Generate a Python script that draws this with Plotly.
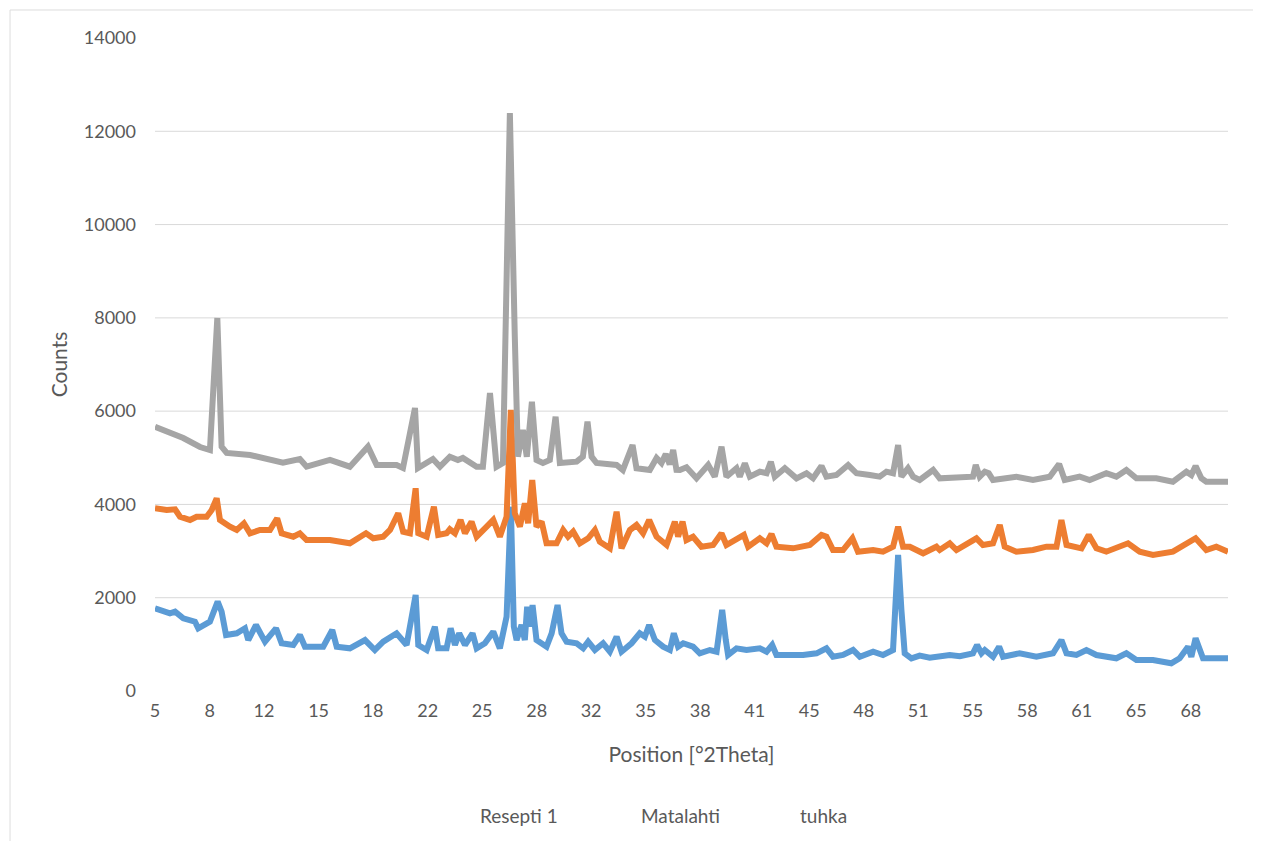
import plotly.graph_objects as go

# ---------------- data ----------------
tick_pos = [5.0, 8.32, 11.63, 14.95, 18.26, 21.58, 24.89, 28.21, 31.52, 34.84,
            38.15, 41.47, 44.78, 48.10, 51.41, 54.73, 58.04, 61.36, 64.67, 67.99]
tick_labels = ["5", "8", "12", "15", "18", "22", "25", "28", "32", "35",
               "38", "41", "45", "48", "51", "55", "58", "61", "65", "68"]
y_ticks = [0, 2000, 4000, 6000, 8000, 10000, 12000, 14000]
y_tick_labels = ["0", "2000", "4000", "6000", "8000", "10000", "12000", "14000"]
grid_levels = [2000, 4000, 6000, 8000, 10000, 12000]

series_names = ["Resepti 1", "Matalahti", "tuhka"]

resepti_2theta = [5.00, 5.91, 6.22, 6.72, 7.43, 7.63, 8.34, 8.81, 9.05, 9.32, 9.97, 10.47, 10.67,
                  11.14, 11.69, 12.36, 12.70, 13.41, 13.81, 14.12, 15.23, 15.78, 16.05, 16.85,
                  17.77, 18.37, 18.88, 19.69, 20.30, 20.85, 21.01, 21.52, 22.02, 22.22, 22.73,
                  22.98, 23.24, 23.50, 23.85, 24.31, 24.56, 25.06, 25.57, 25.97, 26.38, 26.64,
                  26.82, 26.99, 27.29, 27.49, 27.63, 27.80, 27.96, 28.20, 28.81, 29.12, 29.48,
                  29.72, 30.03, 30.64, 31.04, 31.34, 31.75, 32.25, 32.66, 33.07, 33.37, 33.98,
                  34.48, 34.79, 35.05, 35.40, 35.90, 36.31, 36.55, 36.81, 37.12, 37.72, 38.13,
                  38.74, 39.15, 39.49, 39.71, 39.85, 40.36, 40.97, 41.78, 42.19, 42.53, 42.79,
                  43.60, 44.41, 45.23, 45.83, 46.23, 46.84, 47.45, 47.86, 48.67, 49.27, 49.88,
                  50.19, 50.39, 50.59, 51.00, 51.50, 52.11, 52.72, 53.33, 53.94, 54.74, 54.99,
                  55.26, 55.46, 55.96, 56.33, 56.57, 57.58, 58.60, 59.61, 60.12, 60.43, 61.03,
                  61.64, 62.25, 63.46, 64.07, 64.68, 65.69, 66.80, 67.31, 67.82, 68.02, 68.28,
                  68.48, 68.73, 69.54, 70.25]
resepti_counts = [1773, 1666, 1700, 1559, 1486, 1344, 1486, 1915, 1700, 1201, 1237, 1344, 1093,
                  1415, 1057, 1344, 1023, 986, 1201, 950, 950, 1308, 950, 915,
                  1093, 879, 1057, 1237, 986, 2058, 986, 879, 1379, 915, 915,
                  1344, 986, 1237, 986, 1237, 915, 1023, 1271, 915, 1593, 3951,
                  1379, 1093, 1415, 1093, 1807, 1379, 1844, 1093, 950, 1237, 1844,
                  1237, 1057, 1023, 915, 1057, 879, 1023, 843, 1164, 843, 1023,
                  1237, 1164, 1415, 1093, 950, 879, 1237, 950, 1023, 950, 808,
                  879, 843, 1737, 1093, 772, 915, 879, 915, 843, 986, 772,
                  772, 772, 808, 915, 735, 772, 879, 735, 843, 772, 879,
                  2916, 1737, 808, 701, 760, 715, 735, 770, 745, 808, 986,
                  808, 879, 735, 950, 735, 808, 735, 808, 1093, 808, 772,
                  879, 772, 701, 808, 665, 665, 594, 701, 950, 735, 1130,
                  950, 701, 701, 701]

matalahti_2theta = [5.00, 5.71, 6.22, 6.52, 7.13, 7.53, 8.14, 8.45, 8.75, 8.95, 9.56, 9.97, 10.41,
                    10.78, 11.38, 11.99, 12.43, 12.70, 13.41, 13.81, 14.22, 15.64, 16.85, 17.83,
                    18.27, 18.88, 19.29, 19.79, 20.09, 20.50, 20.85, 21.01, 21.52, 21.96, 22.22,
                    22.73, 22.93, 23.24, 23.58, 23.85, 24.25, 24.56, 25.17, 25.57, 25.97, 26.38,
                    26.64, 26.88, 27.19, 27.49, 27.69, 27.94, 28.20, 28.51, 28.81, 29.42, 29.82,
                    30.12, 30.43, 30.84, 31.34, 31.75, 32.05, 32.66, 33.07, 33.37, 33.88, 34.28,
                    34.68, 35.05, 35.50, 36.11, 36.61, 36.81, 37.08, 37.32, 37.72, 38.23, 38.94,
                    39.45, 39.75, 40.36, 40.81, 41.07, 41.78, 42.19, 42.49, 42.79, 43.80, 44.82,
                    45.53, 45.83, 46.23, 46.84, 47.41, 47.75, 48.67, 49.27, 49.88, 50.19, 50.49,
                    50.90, 51.71, 52.52, 52.72, 53.33, 53.74, 54.95, 55.35, 55.96, 56.37, 56.67,
                    57.38, 58.39, 59.21, 59.82, 60.12, 60.43, 61.34, 61.78, 62.25, 62.85, 64.17,
                    64.88, 65.69, 66.90, 67.82, 68.28, 68.93, 69.54, 70.25]
matalahti_counts = [3917, 3881, 3896, 3737, 3666, 3737, 3737, 3881, 4131, 3666, 3523, 3452, 3595,
                    3381, 3452, 3452, 3703, 3381, 3308, 3381, 3237, 3237, 3167, 3381,
                    3274, 3308, 3452, 3810, 3415, 3381, 4346, 3381, 3308, 3951, 3345,
                    3381, 3467, 3381, 3666, 3381, 3630, 3308, 3523, 3666, 3308, 3737,
                    6025, 3810, 3523, 4024, 3595, 4524, 3523, 3630, 3167, 3167, 3452,
                    3308, 3415, 3167, 3274, 3452, 3201, 3059, 3844, 3059, 3452, 3559,
                    3381, 3666, 3308, 3130, 3630, 3308, 3630, 3237, 3308, 3094, 3130,
                    3381, 3130, 3237, 3345, 3094, 3274, 3167, 3366, 3094, 3059, 3130,
                    3345, 3308, 3023, 3023, 3274, 2987, 3023, 2987, 3094, 3523, 3094,
                    3094, 2952, 3094, 3023, 3167, 3023, 3274, 3130, 3167, 3559, 3094,
                    2987, 3023, 3094, 3094, 3666, 3130, 3059, 3345, 3059, 2987, 3167,
                    2987, 2916, 2987, 3167, 3274, 3023, 3094, 2987]

tuhka_2theta = [5.00, 5.91, 6.72, 7.74, 8.34, 8.79, 9.05, 9.36, 10.78, 12.78, 13.81, 14.22, 15.64,
                16.85, 17.95, 18.48, 19.69, 20.08, 20.81, 20.99, 21.11, 21.90, 22.33, 22.93,
                23.42, 23.72, 24.56, 24.94, 25.37, 25.77, 26.16, 26.58, 26.88, 27.07, 27.37,
                27.61, 27.92, 28.20, 28.59, 29.01, 29.36, 29.62, 30.64, 31.02, 31.30, 31.55,
                31.85, 33.07, 33.45, 34.04, 34.28, 35.09, 35.50, 35.80, 36.06, 36.30, 36.51,
                36.71, 36.92, 37.32, 37.93, 38.64, 39.04, 39.45, 39.75, 40.36, 40.56, 40.87,
                41.17, 41.78, 42.19, 42.45, 42.69, 43.30, 44.01, 44.62, 45.02, 45.53, 45.83,
                46.44, 47.15, 47.66, 48.47, 49.07, 49.48, 49.88, 50.19, 50.39, 50.79, 51.10,
                51.50, 52.32, 52.72, 53.94, 54.74, 54.91, 55.15, 55.46, 55.70, 55.96, 57.38,
                58.39, 59.41, 59.98, 60.32, 61.23, 61.84, 62.85, 63.46, 64.07, 64.68, 65.89,
                66.90, 67.72, 68.02, 68.28, 68.63, 68.93, 70.25]
tuhka_counts = [5667, 5532, 5424, 5231, 5167, 7997, 5238, 5103, 5060, 4895, 4974, 4809, 4953,
                4809, 5238, 4845, 4845, 4781, 6068, 4781, 4809, 4974, 4809, 5023,
                4953, 4996, 4809, 4809, 6389, 4809, 4888, 12390, 7596, 5023, 5596,
                5023, 6203, 4953, 4888, 4953, 5881, 4888, 4916, 5023, 5774, 5023,
                4888, 4845, 4738, 5274, 4775, 4738, 4996, 4888, 5081, 4860, 5167,
                4740, 4738, 4796, 4560, 4845, 4595, 5238, 4595, 4775, 4595, 4882,
                4595, 4702, 4668, 4916, 4595, 4775, 4560, 4668, 4560, 4824, 4595,
                4631, 4845, 4668, 4631, 4595, 4702, 4668, 5274, 4595, 4775, 4595,
                4524, 4738, 4560, 4595, 4595, 4845, 4595, 4702, 4668, 4524, 4595,
                4524, 4595, 4867, 4524, 4595, 4524, 4668, 4595, 4738, 4560, 4560,
                4487, 4702, 4631, 4824, 4560, 4487, 4487]

colors = ["#5B9BD5", "#ED7D31", "#A5A5A5"]
text_color = "#595959"
font_family = "Lato, Noto Sans, sans-serif"

# ---------------- figure ----------------
fig = go.Figure()
for name, xs, ys, col in zip(series_names,
                             [resepti_2theta, matalahti_2theta, tuhka_2theta],
                             [resepti_counts, matalahti_counts, tuhka_counts],
                             colors):
    fig.add_trace(go.Scatter(x=xs, y=ys, mode="lines", name=name,
                             line=dict(color=col, width=6), showlegend=False))

shapes = []
for g in grid_levels:
    shapes.append(dict(type="line", xref="paper", yref="y", x0=0, x1=1, y0=g, y1=g,
                       line=dict(color="#D9D9D9", width=1), layer="below"))
# chart-area border (left and top edges visible)
shapes.append(dict(type="line", xref="paper", yref="paper", x0=-0.1351, x1=-0.1351,
                   y0=-0.25, y1=1.0429, line=dict(color="#DDDDDD", width=1)))
shapes.append(dict(type="line", xref="paper", yref="paper", x0=-0.1351, x1=1.05,
                   y0=1.0429, y1=1.0429, line=dict(color="#DDDDDD", width=1)))

annotations = []
legend_x = [0.339, 0.490, 0.623]
for name, lx in zip(series_names, legend_x):
    annotations.append(dict(text=name, xref="paper", yref="paper", x=lx, y=-0.19,
                            xanchor="center", yanchor="middle", showarrow=False,
                            font=dict(family=font_family, size=19, color=text_color)))

fig.update_layout(
    width=1261, height=841,
    margin=dict(l=147, r=41, t=30, b=158),
    paper_bgcolor="white", plot_bgcolor="white",
    font=dict(family=font_family, color=text_color, size=18),
    shapes=shapes, annotations=annotations,
    xaxis=dict(range=[5, 70.25], tickmode="array", tickvals=tick_pos, ticktext=tick_labels,
               showgrid=False, zeroline=False, showline=False, ticks="",
               ticklabelstandoff=7,
               tickfont=dict(size=18, color=text_color),
               title=dict(text="Position [°2Theta]", standoff=27,
                          font=dict(size=21, color=text_color))),
    yaxis=dict(range=[0, 14000], tickmode="array", tickvals=y_ticks, ticktext=y_tick_labels,
               showgrid=False, zeroline=False, showline=False, ticks="",
               ticklabelstandoff=18,
               tickfont=dict(size=18, color=text_color),
               title=dict(text="Counts", standoff=10,
                          font=dict(size=21, color=text_color))),
)

fig.write_html("out.html")
